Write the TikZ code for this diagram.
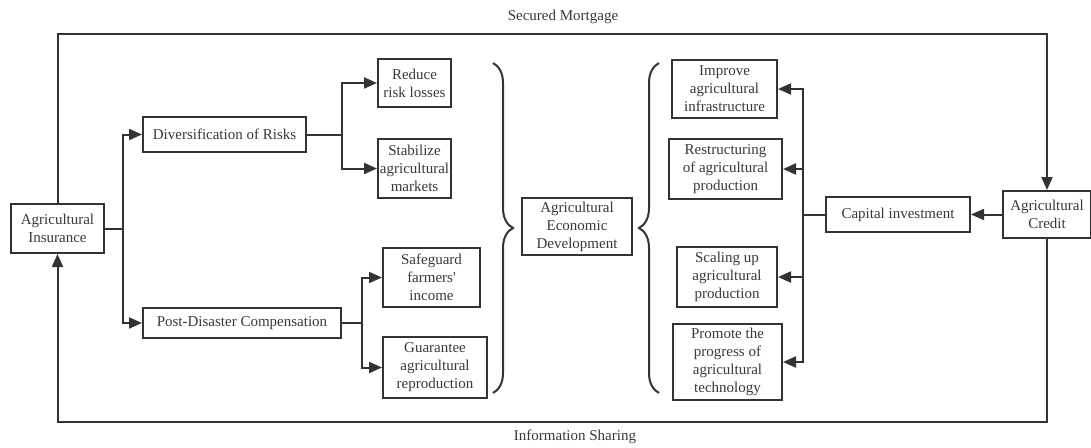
\documentclass[tikz,border=0pt]{standalone}
\usepackage{fontspec}
\setmainfont{Liberation Serif}[Ligatures=TeXOff]
\usetikzlibrary{arrows.meta,decorations.pathreplacing}
\definecolor{ink}{HTML}{333333}
\definecolor{txt}{HTML}{383838}
\begin{document}
\begin{tikzpicture}[x=1pt,y=-1pt,
  box/.style={draw=ink,line width=2pt,inner sep=0pt,align=center,text=txt,
    font=\fontsize{15}{18}\selectfont},
  lbl/.style={text=txt,font=\fontsize{15}{18}\selectfont},
  link/.style={draw=ink,line width=2pt},
  arr/.style={link,-{Triangle[length=13pt,width=11pt]}},
  brc/.style={draw=ink,line width=2pt,decorate,decoration={brace,amplitude=20pt}}]
\useasboundingbox (0,0) rectangle (1091,447);
% nodes
\node[box,minimum width=93pt,minimum height=49pt] (ins) at (57.5,228.5) {Agricultural\\Insurance};
\node[box,minimum width=163pt,minimum height=35pt] (div) at (224.5,134.5) {Diversification of Risks};
\node[box,minimum width=198pt,minimum height=30pt] (post) at (242,323) {Post-Disaster Compensation};
\node[box,minimum width=73pt,minimum height=48pt] (red) at (414.5,83) {Reduce\\risk losses};
\node[box,minimum width=73pt,minimum height=59pt] (stab) at (414.5,168.5) {Stabilize\\agricultural\\markets};
\node[box,minimum width=97pt,minimum height=59pt] (safe) at (431.5,277.5) {Safeguard\\farmers'\\income};
\node[box,minimum width=104pt,minimum height=61pt] (guar) at (435,367.5) {Guarantee\\agricultural\\reproduction};
\node[box,minimum width=110pt,minimum height=57pt] (aed) at (577,226.5) {Agricultural\\Economic\\Development};
\node[box,minimum width=105pt,minimum height=58pt] (impr) at (724.5,89) {Improve\\agricultural\\infrastructure};
\node[box,minimum width=113pt,minimum height=60pt] (restr) at (725.5,169) {Restructuring\\of agricultural\\production};
\node[box,minimum width=100pt,minimum height=60pt] (scal) at (727,277) {Scaling up\\agricultural\\production};
\node[box,minimum width=109pt,minimum height=76pt] (prom) at (727.5,362) {Promote the\\progress of\\agricultural\\technology};
\node[box,minimum width=144pt,minimum height=35pt] (cap) at (898,214.5) {Capital investment};
\node[box,minimum width=88pt,minimum height=47pt] (cred) at (1047,214.5) {Agricultural\\Credit};
\node[lbl] (sm) at (563,17) {Secured Mortgage};
\node[lbl] (is) at (575,437) {Information Sharing};
% braces
\coordinate (b1t) at (493,63);
\coordinate (b1b) at (493,393);
\coordinate (b2t) at (659,63);
\coordinate (b2b) at (659,393);
\draw[brc] (b1t) -- (b1b);
\draw[brc] (b2b) -- (b2t);
% left tree
\coordinate (j1) at (123,228.5);
\draw[arr] (ins.east) -- (j1) |- (div.west);
\draw[arr] (ins.east) -- (j1) |- (post.west);
\coordinate (j2) at (342,134.5);
\draw[arr] (div.east) -- (j2) |- (red.west);
\draw[arr] (div.east) -- (j2) |- (stab.west);
\coordinate (j3) at (362,323);
\draw[arr] (post.east) -- (j3) |- (safe.west);
\draw[arr] (post.east) -- (j3) |- (guar.west);
% right tree
\draw[arr] (cred.west) -- (cap.east);
\coordinate (j4) at (803,214.5);
\draw[arr] (cap.west) -- (j4) |- (impr.east);
\draw[arr] (cap.west) -- (j4) |- (restr.east);
\draw[arr] (cap.west) -- (j4) |- (scal.east);
\draw[arr] (cap.west) -- (j4) |- (prom.east);
% outer loop
\coordinate (top) at (57.5,34);
\coordinate (bot) at (1047,422);
\draw[arr] (ins.north) -- (top) -| (cred.north);
\draw[arr] (cred.south) -- (bot) -| (ins.south);
\end{tikzpicture}
\end{document}
